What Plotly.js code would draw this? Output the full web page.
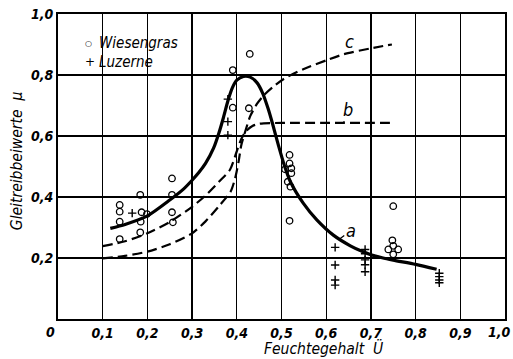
<!DOCTYPE html>
<html>
<head>
<meta charset="utf-8">
<script src="https://cdn.plot.ly/plotly-3.0.1.min.js"></script>
<style>html,body{margin:0;padding:0;background:#fff;}#chart{width:513px;height:359px;}</style>
</head>
<body>
<div id="chart"></div>
<script>
// Wiesengras (circles)
var wiesengrasX = [0.138,0.138,0.138,0.138, 0.184,0.187,0.199,0.185,0.184, 0.255,0.255,0.255,0.257,
  0.391,0.429,0.391,0.427, 0.518,0.518,0.508,0.522,0.522,0.514,0.520,0.518,
  0.750,0.748,0.739,0.761,0.750,0.750];
var wiesengrasY = [0.374,0.352,0.319,0.262, 0.407,0.350,0.344,0.319,0.284, 0.461,0.407,0.350,0.317,
  0.816,0.869,0.693,0.691, 0.538,0.510,0.491,0.494,0.478,0.450,0.434,0.322,
  0.370,0.258,0.228,0.228,0.240,0.212];
// Luzerne (crosses)
var luzerneX = [0.166, 0.380,0.380,0.380, 0.620,0.620,0.620,0.620, 0.687,0.687,0.687,0.687,0.687, 0.853,0.853,0.853,0.853];
var luzerneY = [0.347, 0.721,0.647,0.603, 0.235,0.177,0.128,0.111, 0.228,0.214,0.194,0.178,0.155, 0.150,0.139,0.128,0.119];
// Curve a (solid)
var curveAX = [0.117,0.15,0.2,0.25,0.28,0.30,0.315,0.33,0.348,0.36,0.37,0.38,0.39,0.40,0.415,0.43,0.445,0.458,0.47,0.48,0.493,0.505,0.52,0.549,0.579,0.616,0.654,0.68,0.70,0.725,0.75,0.80,0.847];
var curveAY = [0.297,0.31,0.338,0.39,0.425,0.455,0.48,0.51,0.56,0.61,0.66,0.715,0.758,0.783,0.795,0.793,0.775,0.74,0.69,0.64,0.57,0.51,0.45,0.379,0.325,0.275,0.240,0.222,0.211,0.201,0.193,0.179,0.163];
// Curve b (dashed)
var curveBX = [0.10,0.15,0.2,0.25,0.3,0.33,0.36,0.385,0.40,0.41,0.42,0.435,0.45,0.5,0.6,0.75];
var curveBY = [0.239,0.255,0.281,0.318,0.368,0.405,0.45,0.49,0.55,0.59,0.615,0.633,0.640,0.643,0.643,0.643];
// Curve c (dashed)
var curveCX = [0.10,0.15,0.2,0.25,0.3,0.33,0.36,0.386,0.396,0.404,0.41,0.42,0.43,0.445,0.46,0.48,0.505,0.55,0.602,0.639,0.698,0.747];
var curveCY = [0.199,0.207,0.221,0.245,0.281,0.32,0.37,0.417,0.46,0.516,0.57,0.62,0.665,0.705,0.733,0.76,0.787,0.82,0.849,0.868,0.887,0.90];
// ticks
var xTickVals = [0.1,0.2,0.3,0.4,0.5,0.6,0.7,0.8,0.9];
var xTickText = ["0,1","0,2","0,3","0,4","0,5","0,6","0,7","0,8","0,9"];
var yTickVals = [0.2,0.4,0.6,0.8,1.0];
var yTickText = ["0,2","0,4","0,6","0,8","1,0"];

var FONT = "DejaVu Sans Condensed, Liberation Sans Narrow, sans-serif";
var tickFont = {family: FONT, size: 14, color: "#000", style: "italic", weight: "bold"};
var titleFont = {family: FONT, size: 15.5, color: "#000", style: "italic"};

var traces = [
  {x: curveAX, y: curveAY, mode: "lines", line: {color: "#000", width: 3.2, shape: "spline", smoothing: 0.7}, showlegend: false, hoverinfo: "skip"},
  {x: curveBX, y: curveBY, mode: "lines", line: {color: "#000", width: 2.2, dash: "10px,5px", shape: "spline", smoothing: 0.7}, showlegend: false, hoverinfo: "skip"},
  {x: curveCX, y: curveCY, mode: "lines", line: {color: "#000", width: 2.2, dash: "10px,5px", shape: "spline", smoothing: 0.7}, showlegend: false, hoverinfo: "skip"},
  {x: wiesengrasX, y: wiesengrasY, mode: "markers", marker: {symbol: "circle-open", size: 6.5, color: "#000", line: {width: 1.3, color: "#000"}}, showlegend: false},
  {x: luzerneX, y: luzerneY, mode: "markers", marker: {symbol: "cross-thin-open", size: 6, color: "#000", line: {width: 1.4, color: "#000"}}, showlegend: false}
];

var layout = {
  width: 513, height: 359,
  margin: {l: 57.5, r: 8, t: 14, b: 40},
  paper_bgcolor: "#fff", plot_bgcolor: "#fff",
  xaxis: {range: [0, 1], tickvals: xTickVals, ticktext: xTickText, showgrid: true, gridcolor: "#000", gridwidth: 1.3,
    showline: true, mirror: true, linecolor: "#000", linewidth: 2, ticks: "", zeroline: false, tickfont: tickFont, fixedrange: true},
  yaxis: {range: [0, 1], tickvals: yTickVals, ticktext: yTickText, showgrid: true, gridcolor: "#000", gridwidth: 1.3,
    showline: true, mirror: true, linecolor: "#000", linewidth: 2, ticks: "", zeroline: false, tickfont: tickFont, fixedrange: true},
  showlegend: false,
  annotations: [
    {text: "0", xref: "paper", yref: "paper", x: -0.017, y: -0.044, showarrow: false, font: tickFont, xanchor: "center", yanchor: "middle"},
    {text: "1,0", xref: "paper", yref: "paper", x: 1.018, y: -0.044, showarrow: false, font: tickFont, xanchor: "right", yanchor: "middle"},
    {text: "Feuchtegehalt  Ü", xref: "paper", yref: "paper", x: 0.593, y: -0.131, showarrow: false, font: titleFont, xanchor: "center", yanchor: "bottom", borderpad: 0},
    {text: "Gleitreibbeiwerte  μ", xref: "paper", yref: "paper", x: -0.09, y: 0.52, textangle: -90, showarrow: false, font: titleFont, xanchor: "center", yanchor: "middle"},
    {text: "○", xref: "paper", yref: "paper", x: 0.069, y: 0.904, showarrow: false, font: {family: "DejaVu Sans", size: 8, color: "#000"}, xanchor: "center", yanchor: "middle"},
    {text: "Wiesengras", xref: "paper", yref: "paper", x: 0.0865, y: 0.904, showarrow: false, font: {family: FONT, size: 15, color: "#000", style: "italic"}, xanchor: "left", yanchor: "middle"},
    {text: "+", xref: "paper", yref: "paper", x: 0.071, y: 0.842, showarrow: false, font: {family: "DejaVu Sans", size: 12, color: "#000"}, xanchor: "center", yanchor: "middle"},
    {text: "Luzerne", xref: "paper", yref: "paper", x: 0.0865, y: 0.842, showarrow: false, font: {family: FONT, size: 15, color: "#000", style: "italic"}, xanchor: "left", yanchor: "middle"},
    {text: "c", x: 0.641, y: 0.868, ax: 0.652, ay: 0.91, axref: "x", ayref: "y", showarrow: true, arrowhead: 0, arrowwidth: 1.2, arrowcolor: "#000", font: {family: FONT, size: 18, color: "#000", style: "italic"}},
    {text: "b", x: 0.639, y: 0.643, ax: 0.648, ay: 0.688, axref: "x", ayref: "y", showarrow: true, arrowhead: 0, arrowwidth: 1.2, arrowcolor: "#000", font: {family: FONT, size: 18, color: "#000", style: "italic"}},
    {text: "a", x: 0.63, y: 0.262, ax: 0.655, ay: 0.29, axref: "x", ayref: "y", showarrow: true, arrowhead: 0, arrowwidth: 1.2, arrowcolor: "#000", font: {family: FONT, size: 18, color: "#000", style: "italic"}}
  ]
};

Plotly.newPlot("chart", traces, layout, {displayModeBar: false, staticPlot: true});
</script>
</body>
</html>
